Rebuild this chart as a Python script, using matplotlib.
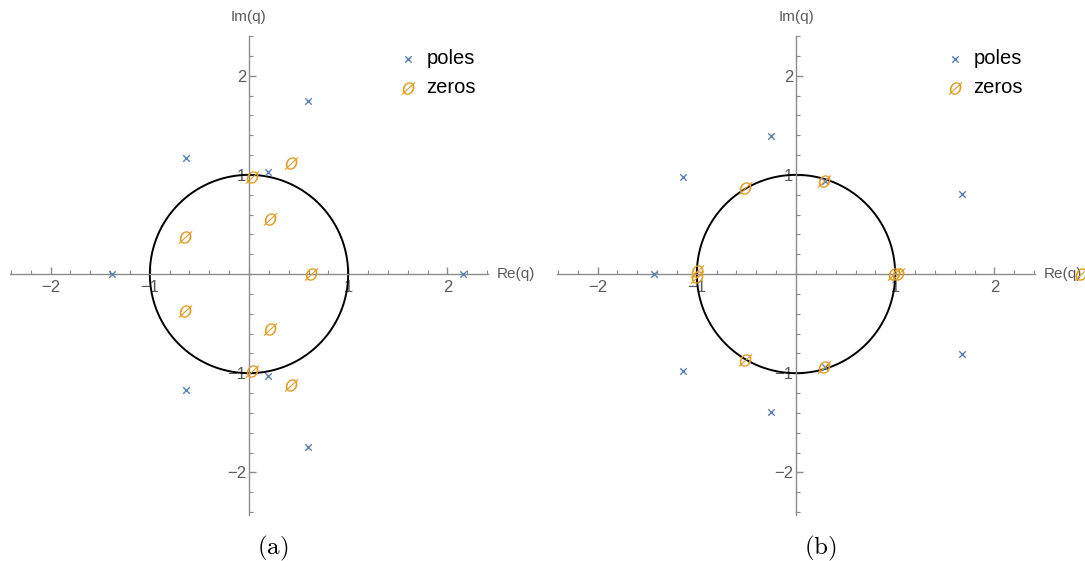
import numpy as np
import matplotlib
matplotlib.use("Agg")
import matplotlib.pyplot as plt
from matplotlib.ticker import MultipleLocator, FixedLocator

plt.rcParams["font.family"] = ["Liberation Sans", "DejaVu Sans"]

# panel (a)
poles_a_re = [-1.38, 2.16, -0.64, -0.64, 0.59, 0.59, 0.19, 0.19]
poles_a_im = [0.0, 0.0, 1.17, -1.17, 1.74, -1.74, 1.03, -1.03]
zeros_a_re = [0.03, 0.03, 0.42, 0.42, 0.21, 0.21, -0.65, -0.65, 0.63]
zeros_a_im = [0.98, -0.98, 1.12, -1.12, 0.55, -0.55, 0.37, -0.37, 0.0]

# panel (b)
poles_b_re = [-1.43, -1.14, -1.14, -0.25, -0.25, 0.29, 0.29, 1.67, 1.67]
poles_b_im = [0.0, 0.98, -0.98, 1.39, -1.39, 0.94, -0.94, 0.81, -0.81]
zeros_b_re = [-1.0, -1.0, 0.99, 1.03, -0.51, -0.51, 0.28, 0.28, 2.87]
zeros_b_im = [0.035, -0.035, 0.0, 0.0, 0.87, -0.87, 0.94, -0.94, 0.0]

blue = "#5e81b5"
orange = "#e19c24"
axcol = "#8c8c8c"
txtcol = "#5a5a5a"

W, H = 1085, 561
fig = plt.figure(figsize=(W / 100, H / 100), dpi=100)

lim = 2.41


def make_panel(left_px, pr, pi, zr, zi, lab):
    ax = fig.add_axes([left_px / W, 1 - 515 / H, 478 / W, 479 / H])
    ax.set_xlim(-lim, lim)
    ax.set_ylim(-2.43, 2.40)
    for s in ["top", "right"]:
        ax.spines[s].set_visible(False)
    ax.spines["left"].set_position(("data", 0))
    ax.spines["bottom"].set_position(("data", 0))
    for s in ["left", "bottom"]:
        ax.spines[s].set_color(axcol)
        ax.spines[s].set_linewidth(1.0)
    ax.xaxis.set_major_locator(FixedLocator([-2, -1, 1, 2]))
    ax.yaxis.set_major_locator(FixedLocator([-2, -1, 1, 2]))
    ax.xaxis.set_minor_locator(MultipleLocator(0.2))
    ax.yaxis.set_minor_locator(MultipleLocator(0.2))
    ax.set_xticklabels(["\u22122", "\u22121", "1", "2"])
    ax.set_yticklabels(["\u22122", "\u22121", "1", "2"])
    ax.tick_params(axis="x", which="both", direction="in", colors=axcol,
                   labelcolor=txtcol, labelsize=12, pad=4)
    ax.tick_params(axis="y", which="both", direction="in", colors=axcol,
                   labelcolor=txtcol, labelsize=12, pad=2)
    ax.tick_params(which="major", length=5, width=1.0)
    ax.tick_params(which="minor", length=3, width=0.8)
    ax.patch.set_alpha(0)

    t = np.linspace(0, 2 * np.pi, 400)
    ax.plot(np.cos(t), np.sin(t), color="black", lw=1.4, zorder=2)
    ax.scatter(pr, pi, marker="x", s=22, color=blue, linewidths=1.0,
               zorder=3, label="poles", clip_on=False)
    ax.scatter(zr, zi, marker=r"$\O$", s=100, color=orange, linewidths=0,
               zorder=4, label="zeros", clip_on=False)

    ax.text(0, 2.52, "Im(q)", ha="center", va="bottom", color=txtcol,
            fontsize=11)
    ax.text(2.5, 0, "Re(q)", ha="left", va="center", color=txtcol,
            fontsize=11)
    leg = ax.legend(loc="upper right", bbox_to_anchor=(1.0, 0.998),
                    frameon=False, fontsize=14.5, handletextpad=0.45,
                    handlelength=0.9, labelspacing=0.5, borderaxespad=0.2)
    for txt in leg.get_texts():
        txt.set_color("black")
    fig.text((left_px + 263) / W, 1 - 548 / H, lab, ha="center",
             va="center", fontsize=18, math_fontfamily="cm")
    return ax


make_panel(10, poles_a_re, poles_a_im, zeros_a_re, zeros_a_im,
           r"$(\mathrm{a})$")
make_panel(557, poles_b_re, poles_b_im, zeros_b_re, zeros_b_im,
           r"$(\mathrm{b})$")

fig.savefig("out.png", dpi=100)
